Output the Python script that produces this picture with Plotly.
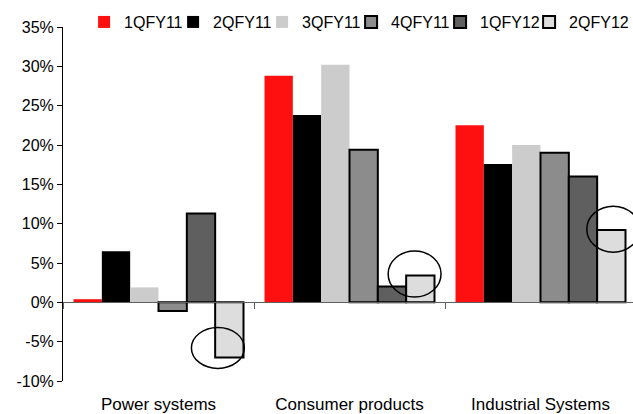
import plotly.graph_objects as go

# Year-on-year growth by segment, quarterly
categories = ["Power systems", "Consumer products", "Industrial Systems"]
quarters = ["1QFY11", "2QFY11", "3QFY11", "4QFY11", "1QFY12", "2QFY12"]
growth = {
    "1QFY11": [0.4, 28.8, 22.5],
    "2QFY11": [6.5, 23.8, 17.6],
    "3QFY11": [1.9, 30.2, 20.0],
    "4QFY11": [-1.1, 19.4, 19.0],
    "1QFY12": [11.3, 2.0, 16.0],
    "2QFY12": [-7.0, 3.4, 9.2],
}
y_ticks = [-10, -5, 0, 5, 10, 15, 20, 25, 30, 35]
y_tick_labels = [f"{v}%" for v in y_ticks]

# Fill colour and outline width per series
fills = ["#ff1010", "#000000", "#cccccc", "#8c8c8c", "#5f5f5f", "#dddddd"]
outlines = [0, 0, 0, 2, 2, 2]

# Rings drawn around the latest quarter in each segment (offsets from the bar end)
ring_dx = [-0.06, -0.03, 0.01]
ring_dy = [1.2, 0.2, 0.1]
ring_w = 0.277
ring_h = [5.2, 5.85, 5.85]

FONT = "Liberation Sans, Arial, sans-serif"
BARGAP = 0.11

fig = go.Figure()
for q, c, lw in zip(quarters, fills, outlines):
    fig.add_trace(go.Bar(
        name=q, x=categories, y=growth[q],
        marker=dict(color=c, line=dict(color="#000000", width=lw)),
        legendwidth=58 if q == quarters[-1] else None,
    ))

# invisible trace keeping the zero-line axis alive
fig.add_trace(go.Scatter(x=categories, y=[0, 0, 0], xaxis="x2", mode="markers",
                         marker=dict(opacity=0), showlegend=False, hoverinfo="skip"))

# ellipses around the 2QFY12 bars
n = len(quarters)
bw = (1 - BARGAP) / n
last = n - 1
centre_off = -(1 - BARGAP) / 2 + (last + 0.5) * bw
for i, v in enumerate(growth[quarters[last]]):
    cx = i + centre_off + ring_dx[i]
    cy = v + ring_dy[i]
    fig.add_shape(type="circle", xref="x", yref="y",
                  x0=cx - ring_w / 2, x1=cx + ring_w / 2,
                  y0=cy - ring_h[i] / 2, y1=cy + ring_h[i] / 2,
                  line=dict(color="#000000", width=1.5), fillcolor="rgba(0,0,0,0)")

xr = [-0.5, -0.5 + 570 / 191]
zero_pos = (0 - y_ticks[0]) / (y_ticks[-1] - y_ticks[0])

fig.update_layout(
    width=633, height=414,
    margin=dict(l=63, r=0, t=27, b=33),
    paper_bgcolor="white", plot_bgcolor="white",
    barmode="group", bargap=BARGAP, bargroupgap=0,
    font=dict(family=FONT, size=16, color="#000000"),
    showlegend=True,
    legend=dict(orientation="h", x=0.037, xanchor="left", y=1.014, yanchor="middle",
                font=dict(size=16), entrywidth=44, entrywidthmode="pixels",
                itemwidth=30, tracegroupgap=0, bgcolor="rgba(0,0,0,0)"),
    xaxis=dict(range=xr, showline=False, ticks="", showgrid=False,
               tickfont=dict(size=17), ticklabelstandoff=11),
    xaxis2=dict(range=xr, overlaying="x", anchor="free", position=zero_pos,
                showline=True, linecolor="#606060", linewidth=1,
                ticks="outside", tickson="boundaries", ticklen=6, tickcolor="#606060",
                tickwidth=1, showticklabels=False, showgrid=False, type="category",
                categoryarray=categories, categoryorder="array"),
    yaxis=dict(range=[y_ticks[0], y_ticks[-1]], tickvals=y_ticks, ticktext=y_tick_labels,
               showline=True, linecolor="#000000", linewidth=1,
               ticks="outside", ticklen=5, tickcolor="#000000",
               showgrid=False, zeroline=False, tickfont=dict(size=16)),
)

fig.write_html("out.html")
